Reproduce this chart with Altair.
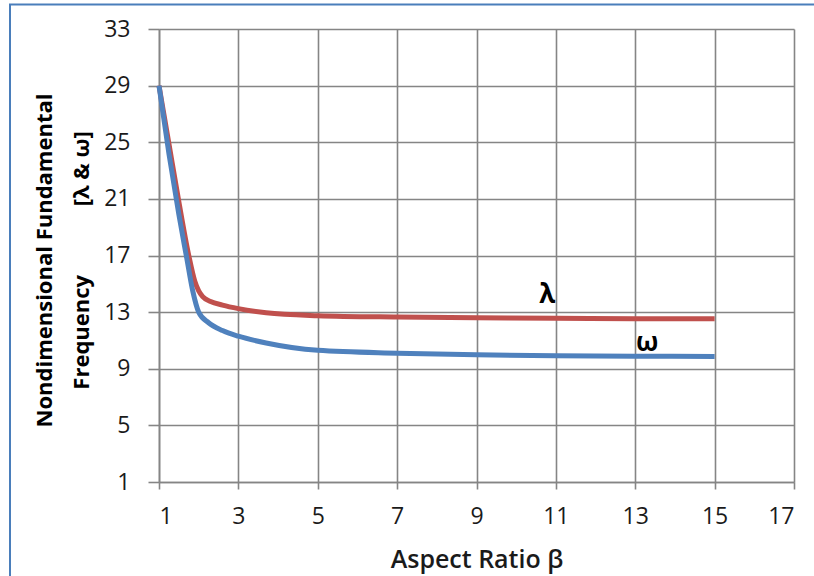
import altair as alt
import pandas as pd

# --- data ---
beta_lambda = [1.0, 1.25, 1.5, 1.75, 1.9, 2.0, 2.1, 2.3, 2.6, 3.0, 3.7, 5.0, 7.0, 9.0, 11.0, 13.0, 15.0]
lam = [29.0, 24.9, 20.8, 17.0, 15.2, 14.5, 14.1, 13.75, 13.5, 13.25, 12.95, 12.75, 12.65, 12.6, 12.56, 12.54, 12.53]

beta_omega = [1.0, 1.25, 1.5, 1.7, 1.85, 2.0, 2.25, 2.6, 3.0, 3.7, 5.0, 7.0, 9.0, 11.0, 13.0, 15.0]
omega = [29.0, 24.2, 19.9, 16.8, 14.5, 13.0, 12.25, 11.7, 11.3, 10.82, 10.3, 10.1, 9.99, 9.92, 9.89, 9.87]

series_names = ["λ", "ω"]
series_colors = ["#C0504D", "#4F81BD"]

label_text = ["λ", "ω"]
label_x = [10.78, 13.3]
label_y = [14.2, 10.83]

x_ticks = [1, 3, 5, 7, 9, 11, 13, 15, 17]
y_ticks = [1, 5, 9, 13, 17, 21, 25, 29, 33]

df = pd.concat([
    pd.DataFrame({"beta": beta_lambda, "freq": lam, "series": series_names[0]}),
    pd.DataFrame({"beta": beta_omega, "freq": omega, "series": series_names[1]}),
])
labels = pd.DataFrame({"t": label_text, "x": label_x, "y": label_y})

FONT = "Open Sans"
GRID = "#858585"

nb = "\u00a0"
y_title = ["Nondimensional Fundamental", "Frequency" + nb * 12 + "[λ & ω]"]

x_scale = alt.Scale(domain=[1, 17], nice=False, zero=False)
y_scale = alt.Scale(domain=[1, 33], nice=False, zero=False)

x_axis = alt.Axis(
    values=x_ticks, title="Aspect Ratio β", grid=True, gridColor=GRID, gridWidth=1.6,
    domainColor=GRID, domainWidth=1.6, tickColor=GRID, tickWidth=1.6, tickSize=7,
    labelPadding=16, labelFont=FONT, labelFontSize=23, labelColor="#1a1a1a",
    titleFont=FONT, titleFontSize=25, titleFontWeight=600, titleColor="#1a1a1a",
    titleY=77, titleBaseline="middle",
)
y_axis = alt.Axis(
    values=y_ticks, title=y_title, grid=True, gridColor=GRID, gridWidth=1.6,
    domainColor=GRID, domainWidth=1.6, tickColor=GRID, tickWidth=1.6, tickSize=11,
    labelPadding=18, labelFont=FONT, labelFontSize=23, labelColor="#1a1a1a",
    titleFont=FONT, titleFontSize=22, titleFontWeight="bold", titleColor="#000000",
    titleAngle=270, titleX=-115, titleY=231, titleAlign="center", titleBaseline="middle",
    titleLineHeight=37,
)

lines = alt.Chart(df).mark_line(strokeWidth=5, interpolate="monotone").encode(
    x=alt.X("beta:Q", scale=x_scale, axis=x_axis),
    y=alt.Y("freq:Q", scale=y_scale, axis=y_axis),
    color=alt.Color("series:N", scale=alt.Scale(domain=series_names, range=series_colors), legend=None),
    detail="series:N",
)

text = alt.Chart(labels).mark_text(font=FONT, fontSize=26, fontWeight="bold", color="#000000",
                                   baseline="middle", align="center").encode(
    x=alt.X("x:Q", scale=x_scale),
    y=alt.Y("y:Q", scale=y_scale),
    text="t:N",
)

border = alt.Chart(pd.DataFrame({"a": [0]})).mark_rect(
    fill="transparent", stroke="#4A7EBB", strokeWidth=2
).encode(
    x=alt.value(-149), x2=alt.value(720), y=alt.value(-24.5), y2=alt.value(620)
)

chart = alt.layer(border, lines, text).properties(
    width=635, height=453,
    autosize=alt.AutoSizeParams(type="none"),
    padding={"left": 159, "top": 29, "right": 20, "bottom": 94},
    background="white",
).configure_view(strokeWidth=0)

chart.save("out.html", embed_options={"renderer": "svg", "actions": False})
